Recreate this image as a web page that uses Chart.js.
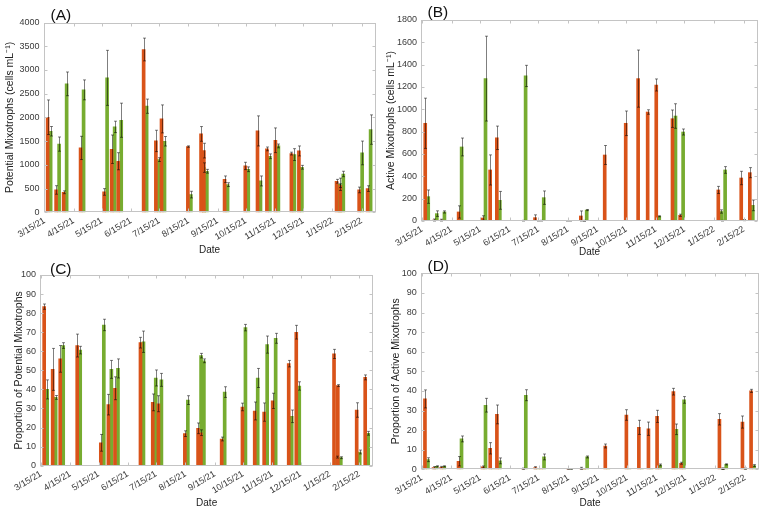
<!DOCTYPE html>
<html><head><meta charset="utf-8">
<script src="https://cdn.jsdelivr.net/npm/chart.js@4.4.0/dist/chart.umd.min.js"></script>
<style>
html,body{margin:0;padding:0;background:#fff;}
#wrap{position:relative;width:764px;height:512px;overflow:hidden;background:#fff;}
canvas{position:absolute;left:0;top:0;}
</style></head><body>
<div id="wrap">
<canvas id="cA" width="764" height="512"></canvas>
<canvas id="cB" width="764" height="512"></canvas>
<canvas id="cC" width="764" height="512"></canvas>
<canvas id="cD" width="764" height="512"></canvas>
</div>
<script>
// ---------------- DATA ----------------
const sampleDates = ['2021-03-20','2021-03-29','2021-04-06','2021-04-24','2021-05-19','2021-05-27','2021-06-03','2021-06-30','2021-07-13','2021-07-19','2021-08-16','2021-08-30','2021-09-02','2021-09-24','2021-10-16','2021-10-29','2021-11-08','2021-11-17','2021-12-04','2021-12-12','2022-01-21','2022-01-25','2022-02-14','2022-02-23'];
const tickDates = ['2021-03-15','2021-04-15','2021-05-15','2021-06-15','2021-07-15','2021-08-15','2021-09-15','2021-10-15','2021-11-15','2021-12-15','2022-01-15','2022-02-15'];
const tickLabels = ['3/15/21','4/15/21','5/15/21','6/15/21','7/15/21','8/15/21','9/15/21','10/15/21','11/15/21','12/15/21','1/15/22','2/15/22'];
const axisStart = '2021-03-14';
const axisEnd = '2022-03-02';

// (A) Potential mixotrophs (cells mL-1)
const potOrange    = [2003, 471, 422, 1357, 429, 1329, 1076, 3431, 1504, 1968, 1385, 1652, 1300, 696, 977, 1715, 1336, 1518, 1237, 1293, 654, 562, 471, 499];
const potOrangeErr = [365, 90, 30, 245, 70, 300, 180, 240, 225, 295, 15, 155, 155, 70, 77, 317, 40, 260, 30, 105, 40, 40, 60, 60];
const potGreen     = [1708, 1437, 2707, 2580, 2833, 1800, 1940, 2236, 1110, 1497, 373, 942, 865, 583, 907, 661, 1181, 1399, 1216, 949, 590, 808, 1251, 1743];
const potGreenErr  = [100, 150, 250, 210, 580, 120, 360, 150, 40, 100, 70, 100, 40, 40, 50, 105, 50, 40, 125, 40, 130, 57, 250, 310];

// (B) Active mixotrophs (cells mL-1)
const actOrange    = [875, 8, 8, 81, 27, 457, 745, 3, 30, 3, 2, 45, 2, 591, 875, 1275, 976, 1218, 916, 51, 278, 3, 385, 433];
const actOrangeErr = [225, 10, 8, 55, 20, 135, 105, 3, 25, 3, 2, 45, 2, 85, 110, 256, 20, 54, 78, 10, 32, 3, 60, 45];
const actGreen     = [218, 66, 81, 663, 1275, 0, 185, 1299, 2, 209, 2, 3, 98, 0, 0, 0, 0, 42, 940, 797, 85, 457, 8, 140];
const actGreenErr  = [60, 25, 10, 80, 380, 0, 80, 95, 2, 60, 2, 3, 5, 0, 0, 0, 0, 5, 110, 27, 15, 30, 5, 48];

// (C) Proportion of potential mixotrophs
const propPotOrange    = [83.4, 50.5, 56, 63, 12, 32, 40.6, 64.5, 33.2, 32.5, 16.8, 19.6, 17.3, 14, 30.8, 28.7, 28.1, 34, 53.5, 70, 58.6, 42, 29.2, 46.3];
const propPotOrangeErr = [1.4, 11, 7, 6, 4.4, 5.4, 6, 2.8, 4.4, 4.2, 1.5, 2.8, 1.5, 1, 2, 4.7, 4.8, 4, 1.7, 3.6, 2.4, 0.5, 3.8, 1.3];
const propPotGreen     = [40, 35.8, 63, 60.6, 73.8, 50.5, 51, 65, 46, 45, 34.4, 57.7, 55, 38.6, 72.4, 46, 63.5, 66.8, 25.9, 41.8, 4.5, 4.2, 7.2, 17];
const propPotGreenErr  = [5, 1, 1.5, 2, 3, 4.7, 5, 5.6, 4.2, 3.4, 2.3, 1.2, 1, 2.8, 1.7, 5, 4.5, 2.6, 3.3, 2.2, 0.5, 0.5, 1, 1];

// (D) Proportion of active mixotrophs
const propActOrange    = [35.9, 0.85, 1, 4.1, 1.2, 10.7, 28, 0.3, 0.85, 0, 0.2, 0.5, 0, 11.9, 27.7, 21.4, 20.7, 27, 39.6, 3.1, 25.5, 0.3, 24.1, 40];
const propActOrangeErr = [4.6, 0.5, 0.5, 2.4, 0.5, 2.9, 4.8, 0.3, 0.5, 0, 0.2, 0.5, 0, 1, 2.7, 3.6, 3.4, 3.1, 1.7, 0.5, 2.9, 0.3, 3.1, 0.8];
const propActGreen     = [4.9, 1.5, 1.5, 15.5, 32.7, 0, 4.3, 37.8, 0, 6.3, 0.2, 0, 6.3, 0, 0, 0, 0, 2.2, 20.4, 35.4, 0.3, 2.5, 0.3, 1.9];
const propActGreenErr  = [1, 0.3, 0.3, 1.5, 3.5, 0, 1.5, 2.8, 0, 1.5, 0.2, 0, 0.5, 0, 0, 0, 0, 0.5, 2.7, 1.7, 0.3, 0.3, 0.3, 0.5];

// ---------------- HELPERS ----------------
const DAY = 86400000;
const ref = Date.UTC(2021, 2, 15);
function dayOf(s){ const p = s.split('-').map(Number); return (Date.UTC(p[0], p[1]-1, p[2]) - ref) / DAY; }
const xDays = sampleDates.map(dayOf);
const tickDays = tickDates.map(dayOf);

const ORANGE = '#D95319';
const GREEN = '#77AC30';
const TXT = '#3a3a3a';
const FONT = "'Liberation Sans', Arial, Helvetica, sans-serif";

const errorBarPlugin = {
  id: 'errbars',
  afterDatasetsDraw(chart) {
    const ctx = chart.ctx;
    const ys = chart.scales.y;
    ctx.save();
    ctx.strokeStyle = 'rgba(0,0,0,0.5)';
    ctx.lineWidth = 1;
    chart.data.datasets.forEach((ds, i) => {
      const meta = chart.getDatasetMeta(i);
      meta.data.forEach((el, j) => {
        const v = ds.data[j].y, e = ds.errors[j];
        if (!e) return;
        const x = Math.round(el.x) + 0.5;
        const yt = ys.getPixelForValue(v + e);
        const yb = ys.getPixelForValue(Math.max(v - e, 0));
        ctx.beginPath();
        ctx.moveTo(x, yt); ctx.lineTo(x, yb);
        ctx.moveTo(x - 1.5, yt); ctx.lineTo(x + 1.5, yt);
        ctx.moveTo(x - 1.5, yb); ctx.lineTo(x + 1.5, yb);
        ctx.stroke();
      });
    });
    ctx.restore();
  }
};

const boxPlugin = {
  id: 'boxticks',
  afterDraw(chart, args, opts) {
    const ctx = chart.ctx;
    const a = chart.chartArea;
    const xs = chart.scales.x, ys = chart.scales.y;
    ctx.save();
    ctx.strokeStyle = '#c4c4c4';
    ctx.lineWidth = 1;
    const L = Math.round(a.left) + 0.5, R = Math.round(a.right) - 0.5;
    const T = Math.round(a.top) + 0.5, B = Math.round(a.bottom) - 0.5;
    ctx.strokeRect(L, T, R - L, B - T);
    ctx.beginPath();
    const tl = 3;
    xs.ticks.forEach(t => {
      const px = Math.round(xs.getPixelForValue(t.value)) + 0.5;
      ctx.moveTo(px, B); ctx.lineTo(px, B - tl);
      ctx.moveTo(px, T); ctx.lineTo(px, T + tl);
    });
    ys.ticks.forEach(t => {
      const py = Math.round(ys.getPixelForValue(t.value)) + 0.5;
      ctx.moveTo(L, py); ctx.lineTo(L + tl, py);
      ctx.moveTo(R, py); ctx.lineTo(R - tl, py);
    });
    ctx.stroke();
    // panel letter
    ctx.fillStyle = '#111';
    ctx.font = "15.5px " + FONT;
    ctx.textBaseline = 'alphabetic';
    ctx.textAlign = 'left';
    ctx.fillText(opts.letter, opts.lx, opts.ly);
    ctx.restore();
  }
};

function makePanel(id, cfg) {
  const W = 764, H = 512;
  const p = cfg.plot;
  new Chart(document.getElementById(id), {
    type: 'bar',
    data: {
      datasets: [
        { data: xDays.map((d, i) => ({x: d, y: cfg.orange[i]})), errors: cfg.orangeErr, backgroundColor: ORANGE, borderWidth: 0, barThickness: 3, grouped: true },
        { data: xDays.map((d, i) => ({x: d, y: cfg.green[i]})), errors: cfg.greenErr, backgroundColor: GREEN, borderWidth: 0, barThickness: 3, grouped: true }
      ]
    },
    options: {
      responsive: false,
      animation: false,
      events: [],
      layout: { padding: { left: p.l - cfg.yW, top: p.t, right: W - p.r, bottom: H - p.b - cfg.xH } },
      plugins: {
        legend: { display: false }, tooltip: { enabled: false },
        boxticks: { letter: cfg.letter, lx: cfg.lx, ly: cfg.ly }
      },
      scales: {
        x: {
          type: 'linear', offset: false,
          min: dayOf(axisStart), max: dayOf(axisEnd),
          afterBuildTicks: (s) => { s.ticks = tickDays.map(v => ({value: v})); },
          afterFit: (s) => { s.height = cfg.xH; },
          grid: { display: false, drawTicks: false },
          border: { display: false },
          ticks: {
            autoSkip: false, maxRotation: 31, minRotation: 31, padding: 3,
            color: TXT, font: { family: FONT, size: 9 },
            callback: (v, i) => tickLabels[i]
          },
          title: { display: true, text: 'Date', color: '#222', font: { family: FONT, size: 10 }, padding: { top: 0, bottom: cfg.xPb } }
        },
        y: {
          min: 0, max: cfg.yMax,
          afterBuildTicks: (s) => { const t = []; for (let v = 0; v <= cfg.yMax + 1e-9; v += cfg.yStep) t.push({value: v}); s.ticks = t; },
          afterFit: (s) => { s.width = cfg.yW; },
          grid: { display: false, drawTicks: false },
          border: { display: false },
          ticks: { padding: 4, color: TXT, font: { family: FONT, size: 9 }, callback: (v) => String(Math.round(v)) },
          title: { display: true, text: cfg.yTitle, color: '#222', font: { family: FONT, size: 10.5 }, padding: { top: cfg.yPt, bottom: 0 } }
        }
      }
    },
    plugins: [errorBarPlugin, boxPlugin]
  });
}

makePanel('cA', {
  plot: {l: 43.5, t: 22.5, r: 375.7, b: 212.3}, yW: 43.5, xH: 45.7, xPb: 1.3, yPt: 4.3,
  yMax: 4000, yStep: 500, yTitle: 'Potential Mixotrophs (cells mL\u207B\u00B9)',
  orange: potOrange, orangeErr: potOrangeErr, green: potGreen, greenErr: potGreenErr,
  letter: '(A)', lx: 50.5, ly: 19.5
});
makePanel('cB', {
  plot: {l: 421, t: 20, r: 758, b: 221}, yW: 39, xH: 39, xPb: 1.3, yPt: 3.3,
  yMax: 1800, yStep: 200, yTitle: 'Active Mixotrophs (cells mL\u207B\u00B9)',
  orange: actOrange, orangeErr: actOrangeErr, green: actGreen, greenErr: actGreenErr,
  letter: '(B)', lx: 427.5, ly: 16.5
});
makePanel('cC', {
  plot: {l: 40, t: 275, r: 373.3, b: 465.7}, yW: 40, xH: 46.3, xPb: 2.3, yPt: 13.3,
  yMax: 100, yStep: 10, yTitle: 'Proportion of Potential Mixotrophs',
  orange: propPotOrange, orangeErr: propPotOrangeErr, green: propPotGreen, greenErr: propPotGreenErr,
  letter: '(C)', lx: 50, ly: 273.5
});
makePanel('cD', {
  plot: {l: 420.7, t: 273.3, r: 759.3, b: 469.3}, yW: 38.7, xH: 42.7, xPb: 2.3, yPt: 8.3,
  yMax: 100, yStep: 10, yTitle: 'Proportion of Active Mixotrophs',
  orange: propActOrange, orangeErr: propActOrangeErr, green: propActGreen, greenErr: propActGreenErr,
  letter: '(D)', lx: 427.5, ly: 271
});
</script>
</body></html>
